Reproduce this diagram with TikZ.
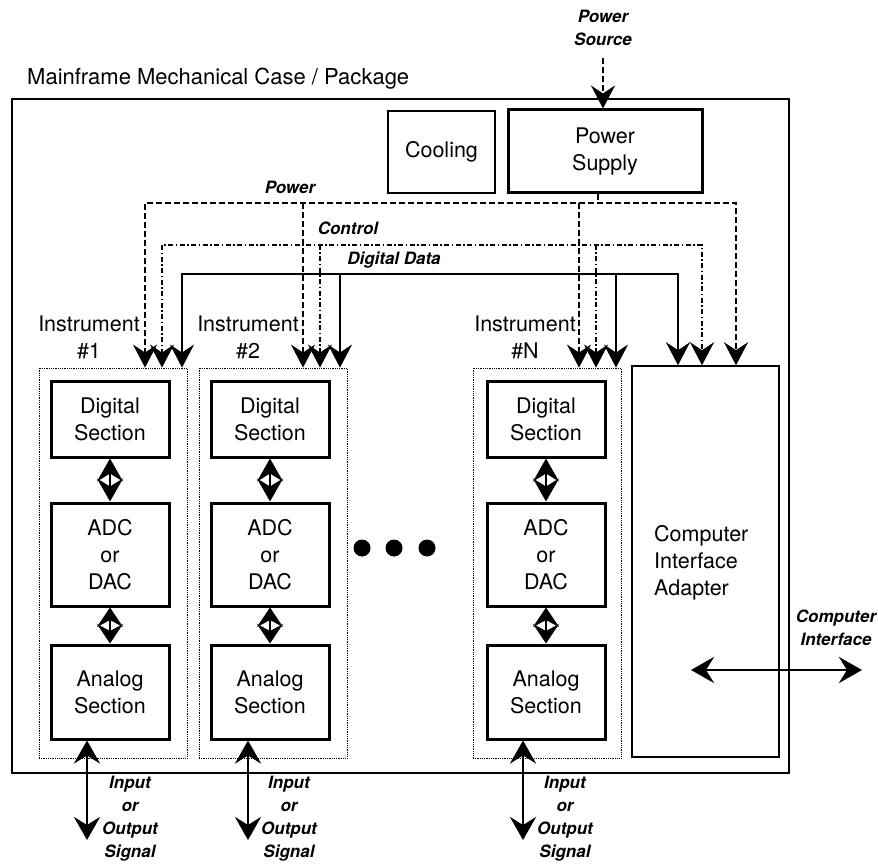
\documentclass[tikz,border=0pt]{standalone}
\usepackage{fontspec}
\setmainfont{TeX Gyre Heros}
\usetikzlibrary{arrows.meta}
\begin{document}
\begin{tikzpicture}[x=1pt,y=-1pt,
  txt/.style={font=\fontsize{21.5}{27}\selectfont, align=center},
  lbl/.style={font=\fontsize{17}{23}\selectfont\bfseries\itshape, align=center, inner sep=0},
  sect/.style={txt, draw, line width=3pt, minimum width=118pt, inner sep=0},
  instbox/.style={draw, densely dotted, line width=0.8pt, minimum width=148pt, minimum height=390pt, inner sep=0},
  thinbox/.style={draw, line width=1.5pt, inner sep=0},
  bushead/.tip={Stealth[length=23pt,width=24pt,inset=8pt]},
  iohead/.tip={Stealth[length=23pt,width=26pt,inset=8pt]},
  busarrow/.style={-bushead},
  pwr/.style={line width=2.9pt, dash pattern=on 6pt off 3pt},
  ctl/.style={line width=2.9pt, dash pattern=on 5pt off 2.5pt on 1.5pt off 2.5pt},
  dat/.style={line width=2.9pt},
  linkA/.style={line width=2.4pt, {Stealth[length=23pt,width=26pt,inset=8pt]}-{Stealth[length=23pt,width=26pt,inset=8pt]}},
  linkB/.style={line width=2.4pt, {Stealth[length=19.5pt,width=26pt,inset=7pt]}-{Stealth[length=19.5pt,width=26pt,inset=7pt]}},
  ioarrow/.style={line width=2.9pt, iohead-iohead}
]
\useasboundingbox (0,0) rectangle (878,866);

% mainframe case
\node[draw, line width=2.4pt, minimum width=777pt, minimum height=674pt, inner sep=0] (case) at (400.5,436) {};
\node[font=\fontsize{22}{26}\selectfont, anchor=west, inner sep=0] (title) at (27,79) {Mainframe Mechanical Case / Package};

% cooling and power supply
\node[txt, thinbox, minimum width=107pt, minimum height=82pt] (cool) at (441.5,152) {Cooling};
\node[txt, draw, line width=3pt, minimum width=194pt, minimum height=83pt, inner sep=0] (ps) at (605,151.5) {Power\\Supply};
\node[lbl] (src) at (603,28) {Power\\Source};
\coordinate (srcend) at (603,58);
\draw[pwr, busarrow] (srcend) -- (srcend |- ps.north);

% instrument outlines
\node[instbox] (i1) at (113,563) {};
\node[instbox] (i2) at (273,563) {};
\node[instbox] (iN) at (547,563) {};
\node[thinbox, minimum width=147pt, minimum height=391pt] (cia) at (705.5,561.5) {};
\node[txt, align=left, anchor=west, inner sep=0] (ciatext) at (654,563) {Computer\\Interface\\Adapter};

\node[txt] (n1) at (89,337) {Instrument\\\#1};
\node[txt] (n2) at (248,337) {Instrument\\\#2};
\node[txt] (nN) at (525,337) {Instrument\\\#N};

% sections of each instrument
\foreach \k/\x in {1/110, 2/270, N/546} {
  \node[sect, minimum height=75pt] (d\k) at (\x,419.5) {Digital\\Section};
  \node[sect, minimum height=103pt] (a\k) at (\x,554.5) {ADC\\or\\DAC};
  \node[sect, minimum height=94pt] (s\k) at (\x,692) {Analog\\Section};
  \draw[linkA] (d\k.south) -- (a\k.north);
  \draw[linkB] (a\k.south) -- (s\k.north);
}

% bus coordinates
\coordinate (p1) at (145,203); \coordinate (p2) at (303,203);
\coordinate (pN) at (579,203); \coordinate (pC) at (736,203);
\coordinate (c1) at (162,245); \coordinate (c2) at (320,245);
\coordinate (cN) at (596,245); \coordinate (cC) at (702,245);
\coordinate (g1) at (182,274); \coordinate (g2) at (340,274);
\coordinate (gN) at (616,274); \coordinate (gC) at (678,274);

% power bus
\draw[pwr] ([xshift=-7pt]ps.south) -- ([xshift=-7pt]ps.south |- p1);
\draw[pwr, bushead-bushead] (p1 |- i1.north) -- (p1) -- (pC) -- (pC |- cia.north);
\draw[pwr, busarrow] (p2) -- (p2 |- i2.north);
\draw[pwr, busarrow] (pN) -- (pN |- iN.north);
% control bus
\draw[ctl, bushead-bushead] (c1 |- i1.north) -- (c1) -- (cC) -- (cC |- cia.north);
\draw[ctl, busarrow] (c2) -- (c2 |- i2.north);
\draw[ctl, busarrow] (cN) -- (cN |- iN.north);
% digital data bus
\draw[dat, bushead-bushead] (g1 |- i1.north) -- (g1) -- (gC) -- (gC |- cia.north);
\draw[dat, busarrow] (g2) -- (g2 |- i2.north);
\draw[dat, busarrow] (gN) -- (gN |- iN.north);

\node[lbl] (lp) at (290,187) {Power};
\node[lbl] (lc) at (348,228) {Control};
\node[lbl] (ld) at (394,260) {Digital Data};

% more instruments
\foreach \x in {362,394,427} \fill (\x,548) circle (8.5pt);

% signal connections
\coordinate (o1) at (87,840); \coordinate (o2) at (248,840); \coordinate (oN) at (523,840);
\draw[ioarrow] (o1 |- s1.south) -- (o1);
\draw[ioarrow] (o2 |- s2.south) -- (o2);
\draw[ioarrow] (oN |- sN.south) -- (oN);
\node[lbl] (t1) at (130,819) {Input\\or\\Output\\Signal};
\node[lbl] (t2) at (289,819) {Input\\or\\Output\\Signal};
\node[lbl] (tN) at (565,819) {Input\\or\\Output\\Signal};

% computer interface
\coordinate (ci1) at (691,670); \coordinate (ci2) at (862,670);
\draw[ioarrow] (ci1) -- (ci2);
\node[lbl] (tc) at (836,628) {Computer\\Interface};
\end{tikzpicture}
\end{document}
